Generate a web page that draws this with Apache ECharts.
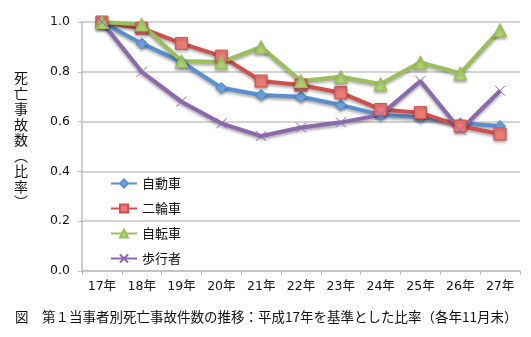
<!DOCTYPE html>
<html>
<head>
<meta charset="utf-8">
<script src="https://cdn.jsdelivr.net/npm/echarts@6/dist/echarts.min.js"></script>
<style>
html,body{margin:0;padding:0;background:#fff;}
#main{width:531px;height:337px;}
</style>
</head>
<body>
<div id="main"></div>
<script>
const categories = ['17年','18年','19年','20年','21年','22年','23年','24年','25年','26年','27年'];
const seriesNames = ['自動車','二輪車','自転車','歩行者'];
const jidosha = [1.0, 0.914, 0.84, 0.736, 0.707, 0.70, 0.667, 0.627, 0.617, 0.593, 0.582];
const nirinsha = [1.0, 0.975, 0.914, 0.863, 0.763, 0.747, 0.716, 0.649, 0.636, 0.582, 0.55];
const jitensha = [1.0, 0.99, 0.843, 0.839, 0.90, 0.763, 0.78, 0.751, 0.838, 0.794, 0.968];
const hokosha = [1.0, 0.80, 0.68, 0.593, 0.542, 0.576, 0.597, 0.627, 0.763, 0.566, 0.724];
const yTicks = [0, 0.2, 0.4, 0.6, 0.8, 1.0];
const titleText = '図　第１当事者別死亡事故件数の推移：平成17年を基準とした比率（各年11月末）';
const yTitle = '死亡事故数︵比率︶';

const FONT = '"DejaVu Sans","Noto Sans CJK JP",sans-serif';
const shadow = {shadowBlur: 3, shadowColor: 'rgba(0,0,0,0.35)', shadowOffsetY: 2};

function mk(name, data, color, markerColor, symbol, size, extra) {
  return Object.assign({
    name: name, type: 'line', data: data,
    symbol: symbol, symbolSize: size,
    lineStyle: Object.assign({color: color, width: 4}, shadow),
    itemStyle: Object.assign({color: markerColor, borderColor: color, borderWidth: 1}, shadow),
    emphasis: {disabled: true},
    z: 2
  }, extra || {});
}

const chart = echarts.init(document.getElementById('main'), null, {renderer: 'canvas'});
chart.setOption({
  animation: false,
  backgroundColor: '#fff',
  textStyle: {fontFamily: FONT},
  grid: {left: 82, right: 11, top: 22, bottom: 66},
  xAxis: {
    type: 'category', data: categories, boundaryGap: true,
    axisLine: {lineStyle: {color: '#bdbdbd', width: 1.5}},
    axisTick: {show: true, length: 4, lineStyle: {color: '#bdbdbd'}},
    axisLabel: {color: '#111', fontSize: 12.5, margin: 9, fontFamily: FONT}
  },
  yAxis: {
    type: 'value', min: yTicks[0], max: yTicks[yTicks.length-1], interval: 0.2,
    axisLine: {show: true, lineStyle: {color: '#bdbdbd', width: 1.5}},
    axisTick: {show: true, length: 4, lineStyle: {color: '#bdbdbd'}},
    splitLine: {lineStyle: {color: '#c6c6c6', width: 1.5}},
    axisLabel: {color: '#111', fontSize: 12.5, margin: 12, fontFamily: FONT,
      formatter: v => v.toFixed(1)}
  },
  legend: {
    orient: 'vertical', left: 110, top: 177, itemGap: 12, padding: 0,
    itemWidth: 26, itemHeight: 10,
    textStyle: {fontSize: 13, color: '#111', fontFamily: '"Noto Sans CJK JP",sans-serif'},
    data: seriesNames
  },
  series: [
    mk(seriesNames[0], jidosha, '#5a8fcf', '#6ea4e4', 'diamond', 11),
    mk(seriesNames[1], nirinsha, '#cf504c', '#ee7b76', 'rect', 12),
    mk(seriesNames[2], jitensha, '#9cbf5c', '#b1d46f', 'triangle', 13),
    mk(seriesNames[3], hokosha, '#8a69ad', 'rgba(0,0,0,0)', 'path://M0,0L10,10M10,0L0,10', 10,
      {itemStyle: {color: 'rgba(0,0,0,0)', borderColor: '#8a69ad', borderWidth: 1}})
  ],
  graphic: [
    {type: 'text', left: 15, top: 310,
      style: {text: titleText, font: '13.5px "Noto Sans CJK JP",sans-serif', fill: '#111'}},
    {type: 'text', left: 14, top: 70,
      style: {text: yTitle.split('').join('\n'), font: '14px "Noto Sans CJK JP",sans-serif',
        fill: '#111', lineHeight: 15.5, align: 'left'}}
  ]
});
</script>
</body>
</html>
